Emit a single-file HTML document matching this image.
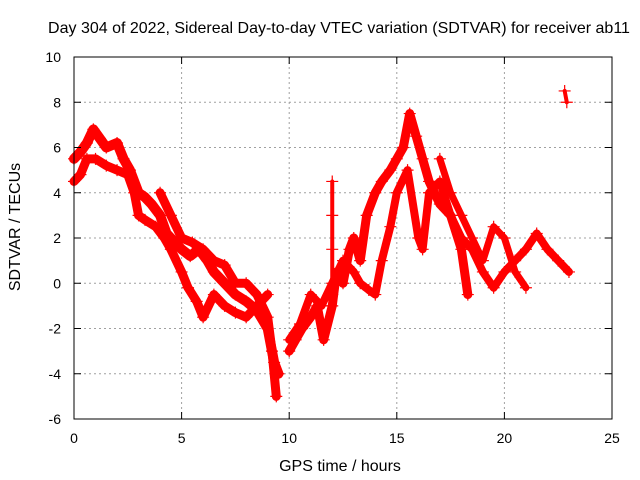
<!DOCTYPE html>
<html><head><meta charset="utf-8"><style>
body{margin:0;background:#fff;}
svg{display:block;font-family:"Liberation Sans",sans-serif;}
</style></head><body>
<svg id="chart" width="640" height="480" viewBox="0 0 640 480">
<rect width="640" height="480" fill="#fff"/>
<text x="339" y="33" font-size="16" text-anchor="middle">Day 304 of 2022, Sidereal Day-to-day VTEC variation (SDTVAR) for receiver ab11</text>
<g id="grid"></g>
<g id="series"></g>
<rect x="74" y="57" width="538" height="362" fill="none" stroke="#000" stroke-width="1"/>
<g id="ticks"></g>
<text x="340" y="471" font-size="16" text-anchor="middle">GPS time / hours</text>
<text transform="translate(20,227) rotate(-90)" font-size="16" text-anchor="middle">SDTVAR / TECUs</text>
</svg>
<script>
const xTicks=[0,5,10,15,20,25];
const yTicks=[-6,-4,-2,0,2,4,6,8,10];
const trackA=[[0,5.5],[0.3,5.8],[0.6,6.2],[0.9,6.8],[1.2,6.4],[1.5,6.0],[2.0,6.2],[2.3,5.5],[2.6,5.0],[3.0,4.0],[3.3,3.8],[3.6,3.5],[4.0,3.0],[4.3,2.2],[4.7,1.8],[5.0,1.5],[5.4,1.2],[5.8,1.5],[6.2,1.0],[6.5,0.5],[7.0,0.0],[7.5,-0.5],[8.0,-0.8],[8.5,-1.2],[9.0,-2.0],[9.3,-3.5],[9.5,-4.0]];
const trackB=[[0,4.5],[0.3,4.8],[0.6,5.5],[1.0,5.5],[1.5,5.2],[2.0,5.0],[2.5,4.8],[2.8,4.0],[3.0,3.0],[3.3,2.8],[3.8,2.5],[4.2,2.0],[4.5,1.5],[5.0,0.5],[5.3,-0.2],[5.7,-0.8],[6.0,-1.5],[6.5,-0.5],[7.0,-1.0],[7.5,-1.3],[8.0,-1.5],[8.5,-1.0],[9.0,-0.5]];
const trackC=[[4.0,4.0],[4.5,3.0],[5.0,2.0],[5.5,1.8],[6.0,1.5],[6.5,1.0],[7.0,0.8],[7.5,0.0],[8.0,0.0],[8.5,-0.5],[9.0,-1.5],[9.2,-3.0],[9.4,-5.0]];
const trackD=[[10.0,-3.0],[10.3,-2.5],[10.6,-2.0],[11.0,-1.5],[11.3,-1.0],[11.6,-2.5],[12.0,-1.0],[12.2,0.5],[12.5,0.0],[12.8,1.5],[13.0,2.0],[13.3,1.0],[13.6,3.0],[14.0,4.0],[14.3,4.5],[14.7,5.0],[15.0,5.5],[15.3,6.0],[15.6,7.5],[15.9,6.5],[16.2,5.5],[16.5,4.5],[17.0,3.5],[17.5,3.0],[18.0,1.5],[18.3,-0.5]];
const trackE=[[10.0,-2.5],[10.5,-1.8],[11.0,-0.5],[11.5,-1.0],[12.0,0.0],[12.5,1.0],[13.0,0.5],[13.3,0.0],[13.7,-0.3],[14.0,-0.5],[14.3,1.0],[14.7,2.5],[15.0,4.0],[15.5,5.0],[16.0,2.0],[16.2,1.5],[16.5,4.0],[17.0,4.5],[17.5,3.0],[18.0,2.0],[18.5,1.5],[19.0,0.5],[19.5,-0.2],[20.0,0.5],[20.5,1.0],[21.0,1.5],[21.5,2.2],[22.0,1.5],[22.5,1.0],[23.0,0.5]];
const trackF=[[17.0,5.5],[17.5,4.0],[18.0,3.0],[18.5,2.0],[19.0,1.0],[19.5,2.5],[20.0,2.0],[20.5,0.5],[21.0,-0.2]];
const trackG=[[12.0,-0.5],[12.0,1.5],[12.0,3.0],[12.0,4.5]];
const trackH=[[22.8,8.5],[22.9,8.0]];
const tracks=[trackA,trackB,trackC,trackD,trackE,trackF,trackG,trackH];
const widths=[10,9,9,9,8,7,4,4];
const X0=74,X1=612,Y0=419,Y1=57;
const sx=v=>X0+(v-0)/25*(X1-X0);
const sy=v=>Y0-(v+6)/16*(Y0-Y1);
const NS="http://www.w3.org/2000/svg";
const mk=(t,a,p)=>{const e=document.createElementNS(NS,t);for(const k in a)e.setAttribute(k,a[k]);p.appendChild(e);return e;};
const grid=document.getElementById('grid'),ticks=document.getElementById('ticks'),ser=document.getElementById('series');
xTicks.forEach(v=>{const x=sx(v);
 if(v>0&&v<25){const g=mk('line',{x1:x,x2:x,y1:Y1,y2:Y0,stroke:'#a0a0a0','stroke-dasharray':'2,3'},grid);}
 const t=mk('line',{x1:x,x2:x,y1:Y0,y2:Y0-7,stroke:'#000'},ticks);
 const t2=mk('line',{x1:x,x2:x,y1:Y1,y2:Y1+7,stroke:'#000'},ticks);
 const l=mk('text',{x:x,y:443,'font-size':14,'text-anchor':'middle'},ticks);l.textContent=v;});
yTicks.forEach(v=>{const y=sy(v);
 if(v>-6&&v<10){const g=mk('line',{x1:X0,x2:X1,y1:y,y2:y,stroke:'#a0a0a0','stroke-dasharray':'2,3'},grid);}
 const t=mk('line',{x1:X0,x2:X0+7,y1:y,y2:y,stroke:'#000'},ticks);
 const t2=mk('line',{x1:X1,x2:X1-7,y1:y,y2:y,stroke:'#000'},ticks);
 const l=mk('text',{x:61,y:y+5,'font-size':14,'text-anchor':'end'},ticks);l.textContent=v;});
tracks.forEach((tr,i)=>{
 const pl=mk('polyline',{points:tr.map(p=>sx(p[0])+','+sy(p[1])).join(' '),fill:'none',stroke:'#f00','stroke-width':widths[i],'stroke-linejoin':'round','stroke-linecap':'round'},ser);
 
 
 tr.forEach(p=>{const x=sx(p[0]),y=sy(p[1]);
  const m=mk('path',{d:`M${x-6},${y}H${x+6}M${x},${y-6}V${y+6}`,stroke:'#f00','stroke-width':1.2},ser);
  
  });
});
</script>
</body></html>
